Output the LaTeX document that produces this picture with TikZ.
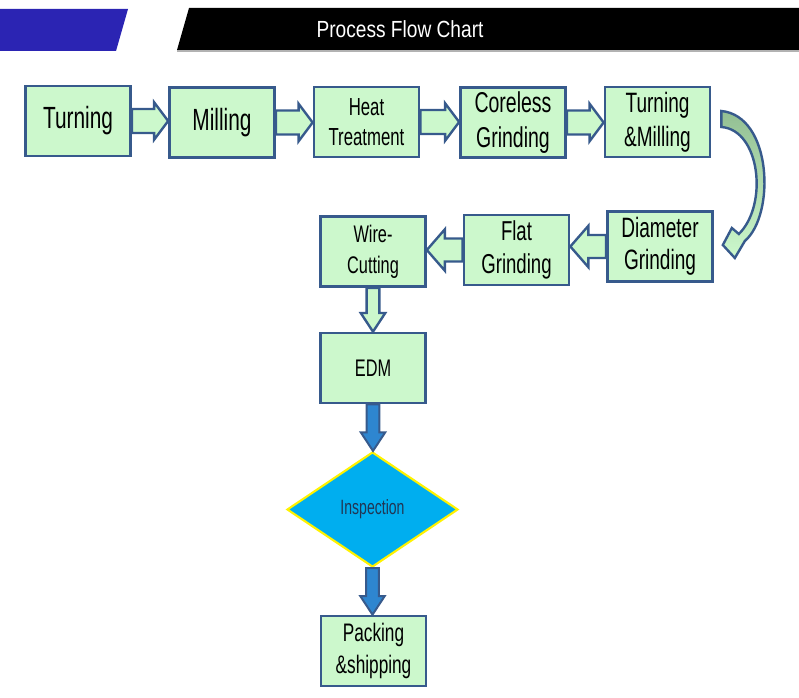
\documentclass[tikz,border=0pt]{standalone}
\usepackage{fontspec}
\setmainfont{Liberation Sans}
\newfontfamily\narrowsans{Liberation Sans}[FakeStretch=0.68]
\newfontfamily\titlesans{Liberation Sans}[FakeStretch=0.82]
\usetikzlibrary{calc}
\usetikzlibrary{shapes.geometric}
\usetikzlibrary{positioning}

\definecolor{boxgreen}{HTML}{CCF8CC}
\definecolor{boxline}{HTML}{375A8C}
\definecolor{bannerblue}{HTML}{2B24B3}
\definecolor{flowblue}{HTML}{2E86D0}
\definecolor{diamondblue}{HTML}{00AEEF}
\definecolor{curvegreen}{HTML}{93BF93}

\tikzset{
  procbox/.style={draw=boxline, line width=2pt, fill=boxgreen,
    minimum width=78.75pt, minimum height=52.5pt, inner sep=1pt,
    align=center, font=\narrowsans\fontsize{21}{25.5}\selectfont},
  blockarrow/.style={draw=boxline, line width=1.8pt, fill=boxgreen, line join=miter},
  bluearrow/.style={draw=boxline, line width=1.5pt, fill=flowblue, line join=miter},
}

% fat arrows between boxes
\newcommand{\rightblock}[2]{%
  \draw[blockarrow] let \p1=(#1.east), \p2=(#2.west) in
    (\x1,{\y1+9pt}) -- ({\x2-10.5pt},{\y1+9pt}) -- ({\x2-10.5pt},{\y1+14pt})
    -- (\x2,\y1) -- ({\x2-10.5pt},{\y1-14pt}) -- ({\x2-10.5pt},{\y1-9pt})
    -- (\x1,{\y1-9pt}) -- cycle;}
\newcommand{\leftblock}[2]{%
  \draw[blockarrow] let \p1=(#1.west), \p2=(#2.east) in
    (\x1,{\y1+8.6pt}) -- ({\x2+13.5pt},{\y1+8.6pt}) -- ({\x2+13.5pt},{\y1+15.5pt})
    -- (\x2,\y1) -- ({\x2+13.5pt},{\y1-15.5pt}) -- ({\x2+13.5pt},{\y1-8.6pt})
    -- (\x1,{\y1-8.6pt}) -- cycle;}
\newcommand{\downblock}[3]{%
  \draw[#1] let \p1=(#2.south), \p2=(#3.north) in
    ({\x1-4.8pt},\y1) -- ({\x1-4.8pt},{\y2+14pt}) -- ({\x1-9.2pt},{\y2+14pt})
    -- (\x1,\y2) -- ({\x1+9.2pt},{\y2+14pt}) -- ({\x1+4.8pt},{\y2+14pt})
    -- ({\x1+4.8pt},\y1) -- cycle;}

\begin{document}
\begin{tikzpicture}[x=0.75pt, y=-0.75pt]
    \useasboundingbox (0,0) rectangle (799,698);

    % Banner
    \fill[bannerblue] (0,9) -- (128,9) -- (116,51) -- (0,51) -- cycle;
    \fill[black] (189,8) -- (799,8) -- (799,50) -- (177,50) -- cycle;
    \draw[gray!60, line width=1pt] (177,51) -- (799,51);
    \node[text=white, font=\titlesans\fontsize{17.5}{20}\selectfont] (title) at (400,29) {Process Flow Chart};

    % First row
    \node[procbox, font=\narrowsans\fontsize{23}{26}\selectfont] (turn) at (78,121) {Turning};
    \node[procbox, font=\narrowsans\fontsize{23}{26}\selectfont] (mill) at (222,122.5) {Milling};
    \node[procbox, font=\narrowsans\fontsize{18.5}{23}\selectfont] (heat) at (366.5,122) {Heat\\Treatment};
    \node[procbox, font=\narrowsans\fontsize{21.5}{26}\selectfont] (core) at (513,122.5) {Coreless\\Grinding};
    \node[procbox] (turnmill) at (657.5,122) {Turning\\\&Milling};

    % Second row
    \node[procbox, font=\narrowsans\fontsize{21}{24}\selectfont] (diam) at (660,246.5) {Diameter\\Grinding};
    \node[procbox, font=\narrowsans\fontsize{20.5}{24.5}\selectfont] (flat) at (516.5,250) {Flat\\Grinding};
    \node[procbox, font=\narrowsans\fontsize{18}{23}\selectfont] (wire) at (373,251.5) {Wire-\\Cutting};

    % Column
    \node[procbox, font=\narrowsans\fontsize{18}{20}\selectfont] (edm) at (373,368) {EDM};
    \node[diamond, draw=yellow, line width=1.6pt, fill=diamondblue, minimum width=128.25pt,
      minimum height=86.25pt, inner sep=0pt, text=boxline!60!black,
      font=\narrowsans\fontsize{15.5}{17}\selectfont] (insp) at (372.5,509.5) {Inspection};
    \node[procbox, font=\narrowsans\fontsize{19}{24}\selectfont] (pack) at (373.5,651) {Packing\\\&shipping};

    % Arrows
    \foreach \a/\b in {turn/mill, mill/heat, heat/core, core/turnmill} {
        \rightblock{\a}{\b}
    }
    \leftblock{diam}{flat}
    \leftblock{flat}{wire}
    \downblock{blockarrow}{wire}{edm}
    \downblock{bluearrow}{edm}{insp}
    \downblock{bluearrow}{insp}{pack}

    % Curved arrow down to the second row
    \coordinate (cstart) at ($(turnmill.east)+(10,-11)$);
    \coordinate (ctip) at ($(diam.east)+(9,-1.5)$);
    \draw[draw=boxline, line width=1.8pt, top color=curvegreen, bottom color=boxgreen, line join=miter]
        (cstart) .. controls ($(cstart)+(51,5)$) and ($(cstart)+(54,104)$) .. ($(ctip)+(22,-4)$)
        -- ($(ctip)+(12,13)$) -- (ctip) -- ($(ctip)+(9,-17)$) -- ($(ctip)+(16,-11)$)
        .. controls ($(cstart)+(47,94)$) and ($(cstart)+(39,19)$) .. ($(cstart)+(0,16)$) -- cycle;
\end{tikzpicture}
\end{document}
